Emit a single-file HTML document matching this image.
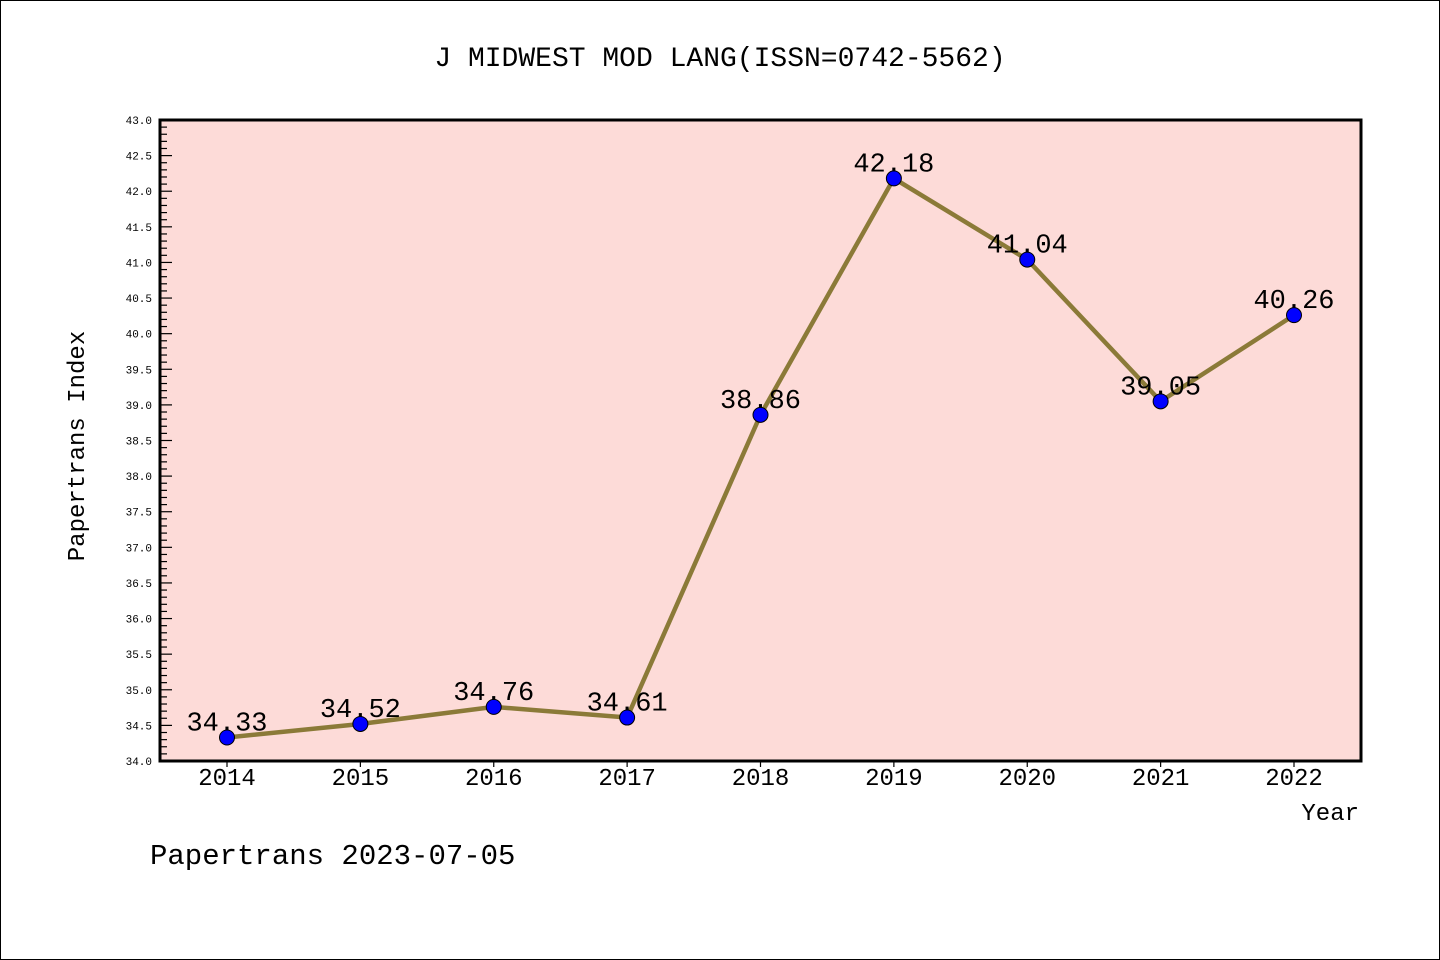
<!DOCTYPE html>
<html><head><meta charset="utf-8"><style>
body{margin:0;background:#fff}
svg{display:block}
text{font-family:"Liberation Mono","DejaVu Sans Mono",monospace}
</style></head><body>
<svg id="chart" width="1440" height="960" xmlns="http://www.w3.org/2000/svg">
<rect x="0.5" y="0.5" width="1439" height="959" fill="#fff" stroke="#000"/>
<text x="720" y="66" text-anchor="middle" font-size="28">J MIDWEST MOD LANG(ISSN=0742-5562)</text>
<rect x="160" y="120" width="1201" height="641" fill="#fddbd8"/>
<g id="yticks"></g><g id="xticks"></g>
<g id="series"></g>
<rect x="160" y="120" width="1201" height="641" fill="none" stroke="#000" stroke-width="3"/>
<text transform="translate(84,446) rotate(-90)" text-anchor="middle" font-size="24">Papertrans Index</text>
<text x="1359" y="820" text-anchor="end" font-size="24">Year</text>
<text x="150" y="864" font-size="29">Papertrans 2023-07-05</text>
</svg>
<script>
const years=["2014","2015","2016","2017","2018","2019","2020","2021","2022"];
const values=[34.33,34.52,34.76,34.61,38.86,42.18,41.04,39.05,40.26];
const labels=["34.33","34.52","34.76","34.61","38.86","42.18","41.04","39.05","40.26"];
const yMin=34,yMax=43;
const NS="http://www.w3.org/2000/svg";
const X0=160,X1=1361,Y0=761,Y1=120;
function yS(v){return Y0-(v-yMin)/(yMax-yMin)*(Y0-Y1);}
function xS(i){return 227+i*(1294-227)/(years.length-1);}
function mk(t,a,p){const e=document.createElementNS(NS,t);for(const k in a)e.setAttribute(k,a[k]);p.appendChild(e);return e;}
const yt=document.getElementById('yticks');
for(let k=0;k<=Math.round((yMax-yMin)*10);k++){
  const v=yMin+k/10,y=yS(v),major=k%5===0;
  const l=mk('line',{x1:X0,x2:X0+(major?12:7),y1:y,y2:y,stroke:'#000','stroke-width':1.2},yt);
  
  
  if(major){const t=mk('text',{x:152,y:y+4,'text-anchor':'end','font-size':11,'font-family':'Liberation Sans, sans-serif'},yt);t.textContent=v.toFixed(1);
  
  }
}
const xt=document.getElementById('xticks');
years.forEach((yr,i)=>{const x=xS(i);
  const l=mk('line',{x1:x,x2:x,y1:Y0,y2:Y0+6,stroke:'#000','stroke-width':1.2},xt);
  
  
  const t=mk('text',{x:x,y:785,'text-anchor':'middle','font-size':24,'font-family':'Liberation Sans, sans-serif'},xt);t.textContent=yr;
  
  
});
const s=document.getElementById('series');
const pl=mk('polyline',{points:values.map((v,i)=>xS(i)+','+yS(v)).join(' '),fill:'none',stroke:'#8b7a38','stroke-width':4.5},s);


values.forEach((v,i)=>{
  const c=mk('circle',{cx:xS(i),cy:yS(v),r:7.5,fill:'#0000ff',stroke:'#000','stroke-width':1},s);
  
  
});
values.forEach((v,i)=>{
  const t=mk('text',{x:xS(i),y:yS(v)-7,'text-anchor':'middle','font-size':27,'font-family':'Liberation Sans, sans-serif'},s);t.textContent=labels[i];
  
  
});
</script>
</body></html>
